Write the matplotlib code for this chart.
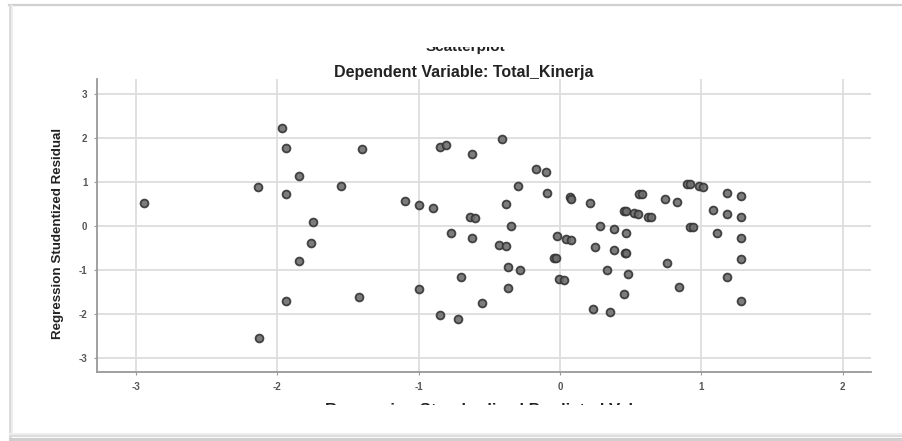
import matplotlib
matplotlib.use("Agg")
import matplotlib.pyplot as plt
from matplotlib.patches import Rectangle
from matplotlib.lines import Line2D

# standardized predicted value (x) and studentized residual (y)
pred = [-2.94, -2.14, -2.13, -1.97, -1.94, -1.85, -1.94, -1.94, -1.85, -1.76,
        -1.75, -1.55, -1.40, -1.42, -1.10, -1.00, -1.00, -0.90, -0.85, -0.81,
        -0.85, -0.77, -0.72, -0.70, -0.62, -0.64, -0.60, -0.62, -0.55, -0.43,
        -0.41, -0.38, -0.38, -0.37, -0.37, -0.35, -0.30, -0.28, -0.17, -0.10,
        -0.09, -0.04, -0.03, -0.02, -0.01, 0.03, 0.04, 0.08, 0.07, 0.08,
        0.21, 0.23, 0.25, 0.28, 0.33, 0.35, 0.38, 0.38, 0.45, 0.47,
        0.45, 0.46, 0.47, 0.47, 0.48, 0.52, 0.55, 0.56, 0.58, 0.62,
        0.64, 0.74, 0.76, 0.83, 0.84, 0.90, 0.92, 0.92, 0.94, 0.98,
        1.01, 1.08, 1.11, 1.18, 1.18, 1.18, 1.28, 1.28, 1.28, 1.28, 1.28]
resid = [0.53, 0.89, -2.54, 2.23, 1.77, 1.13, 0.72, -1.70, -0.80, -0.38,
         0.09, 0.90, 1.75, -1.62, 0.56, 0.48, -1.43, 0.41, 1.80, 1.84,
         -2.02, -0.17, -2.11, -1.17, 1.63, 0.21, 0.18, -0.27, -1.76, -0.43,
         1.97, 0.49, -0.45, -0.94, -1.42, -0.01, 0.91, -1.01, 1.29, 1.23,
         0.75, -0.72, -0.73, -0.24, -1.21, -1.24, -0.30, -0.32, 0.65, 0.62,
         0.52, -1.89, -0.47, 0.00, -1.00, -1.95, -0.07, -0.55, 0.35, 0.34,
         -1.55, -0.61, -0.62, -0.15, -1.10, 0.30, 0.27, 0.73, 0.73, 0.21,
         0.20, 0.61, -0.84, 0.54, -1.39, 0.96, 0.95, -0.02, -0.03, 0.91,
         0.88, 0.36, -0.15, 0.76, 0.27, -1.16, 0.68, 0.20, -0.28, -0.76, -1.71]

x_ticks = [-3, -2, -1, 0, 1, 2]
y_ticks = [-3, -2, -1, 0, 1, 2, 3]

title_top = "Scatterplot"
title_sub = "Dependent Variable: Total_Kinerja"
x_label = "Regression Standardized Predicted Value"
y_label = "Regression Studentized Residual"

W, H = 902, 441
fams = ["Liberation Sans", "DejaVu Sans"]

fig = plt.figure(figsize=(W / 100, H / 100), dpi=100)
fig.patch.set_facecolor("white")

ax = fig.add_axes([97 / W, 1 - 372 / H, (871 - 97) / W, (372 - 79) / H])
ax.set_xlim(-3.276, 2.2)
ax.set_ylim(-3.32, 3.34)
ax.set_xticks(x_ticks)
ax.set_yticks(y_ticks)
ax.set_xticklabels([str(v) for v in x_ticks], fontsize=7, color="#555555",
                   family=fams, fontweight="bold")
ax.set_yticklabels([str(v) for v in y_ticks], fontsize=7, color="#555555",
                   family=fams, fontweight="bold")
ax.tick_params(length=2, color="#999999", pad=5)
ax.grid(True, color="#dddddd", linewidth=1.3)
ax.set_axisbelow(True)
for s in ["top", "right"]:
    ax.spines[s].set_visible(False)
for s in ["left", "bottom"]:
    ax.spines[s].set_color("#999999")
    ax.spines[s].set_linewidth(1.3)

ax.scatter(pred, resid, s=32, facecolor="#6e6e6e", edgecolor="#353535",
           linewidth=1.3, alpha=0.9, zorder=3)

# titles and axis labels (top title and x label are cut off in the original)
fig.text(465 / W, 1 - 47 / H, title_top, ha="center", va="center",
         fontsize=11, family=fams, fontweight="bold", color="#222222")
fig.text(464 / W, 1 - 72 / H, title_sub, ha="center", va="center",
         fontsize=11.5, family=fams, fontweight="bold", color="#222222")
fig.text(489 / W, 1 - 410 / H, x_label, ha="center", va="center",
         fontsize=12, family=fams, fontweight="bold", color="#222222")
fig.text(58.5 / W, 1 - 233 / H, y_label, ha="center", va="center",
         rotation=90, fontsize=9.6, family=fams, fontweight="bold",
         color="#222222")

# white masks that crop the top title and the x label
fig.patches.append(Rectangle((14 / W, 1 - 47 / H), 880 / W, 30 / H,
                             transform=fig.transFigure, facecolor="white",
                             edgecolor="none", zorder=10))
fig.patches.append(Rectangle((14 / W, 1 - 431 / H), 880 / W, 26 / H,
                             transform=fig.transFigure, facecolor="white",
                             edgecolor="none", zorder=10))

# panel frame with shadow
def fline(xs, ys, c, lw):
    fig.lines.append(Line2D([x / W for x in xs], [1 - y / H for y in ys],
                            transform=fig.transFigure, color=c,
                            linewidth=lw, zorder=11))

fline([9, W], [5, 5], "#d0d0d0", 1.6)
fline([10, 10], [5, 436], "#d8d8d8", 2.0)
fline([12, 12], [6, 434], "#ececec", 1.5)
fline([10, W], [434, 434], "#ededed", 1.5)
fline([10, W], [436, 436], "#dcdcdc", 1.5)
fline([10, W], [438.5, 438.5], "#cfcfcf", 2.2)

fig.savefig("out.png", dpi=100, facecolor="white")
